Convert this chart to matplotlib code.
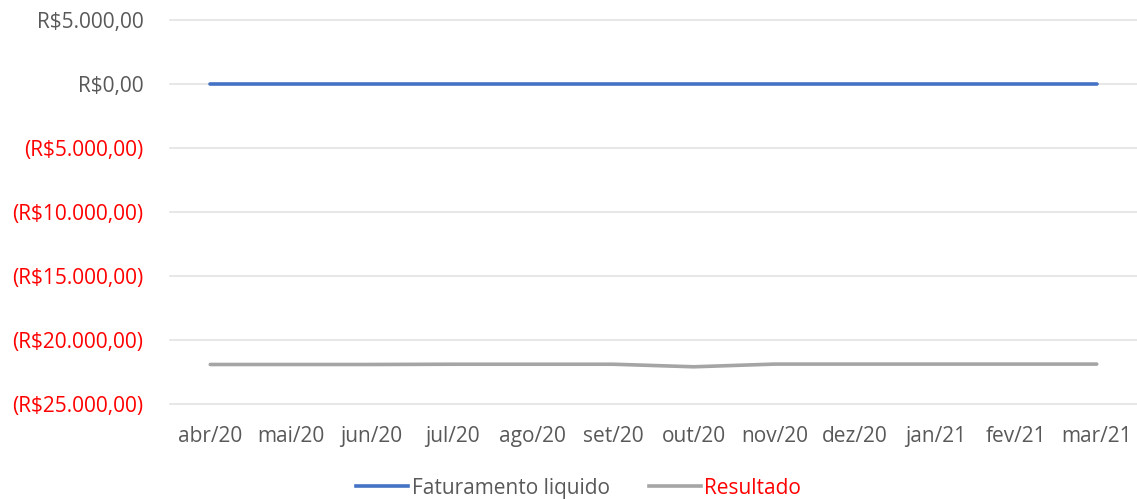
import matplotlib
matplotlib.use("Agg")
import matplotlib.pyplot as plt
from matplotlib.lines import Line2D

months = ["abr/20", "mai/20", "jun/20", "jul/20", "ago/20", "set/20",
          "out/20", "nov/20", "dez/20", "jan/21", "fev/21", "mar/21"]
faturamento = [0, 0, 0, 0, 0, 0, 0, 0, 0, 0, 0, 0]
resultado = [-21900, -21900, -21900, -21880, -21880, -21880,
             -22080, -21870, -21870, -21870, -21870, -21870]
yticks = [5000, 0, -5000, -10000, -15000, -20000, -25000]

plt.rcParams['font.family'] = ['Open Sans', 'DejaVu Sans']
FS = 15

fig = plt.figure(figsize=(11.37, 4.99), dpi=100)
ax = fig.add_axes([0.1495, 0.19, 0.8505, 0.77])

x = list(range(len(months)))
ax.plot(x, faturamento, color="#4472C4", lw=2.6, solid_capstyle="round", zorder=3)
ax.plot(x, resultado, color="#A5A5A5", lw=2.6, solid_capstyle="round", zorder=3)

ax.set_xlim(-0.5, len(months) - 0.5)
ax.set_ylim(-25000, 5000)
ax.set_yticks(yticks)

def fmt(v):
    s = f"{abs(v):,.2f}".replace(",", "X").replace(".", ",").replace("X", ".")
    return f"R${s}" if v >= 0 else f"(R${s})"

ax.set_yticklabels([fmt(v) for v in yticks])
for lbl, v in zip(ax.get_yticklabels(), yticks):
    lbl.set_color("#595959" if v >= 0 else "#FF0000")
    lbl.set_fontsize(FS)

ax.set_xticks(x)
ax.set_xticklabels(months, fontsize=FS, color="#595959")
ax.tick_params(axis='both', length=0)
ax.tick_params(axis='x', pad=16)
ax.tick_params(axis='y', pad=19)

ax.grid(axis='y', color="#E3E3E3", lw=1.2, clip_on=False)
for gl in ax.get_ygridlines():
    gl.set_clip_on(False)
ax.set_axisbelow(True)
for s in ax.spines.values():
    s.set_visible(False)

handles = [Line2D([], [], color="#4472C4", lw=2.6),
           Line2D([], [], color="#A5A5A5", lw=2.6)]
leg = fig.legend(handles, ["Faturamento liquido", "Resultado"],
                 loc="center", bbox_to_anchor=(0.509, 0.022), ncol=2,
                 frameon=False, fontsize=FS, handlelength=2.5,
                 handletextpad=0.15, columnspacing=1.9)
texts = leg.get_texts()
texts[0].set_color("#595959")
texts[1].set_color("#FF0000")

fig.savefig("out.png", dpi=100)
